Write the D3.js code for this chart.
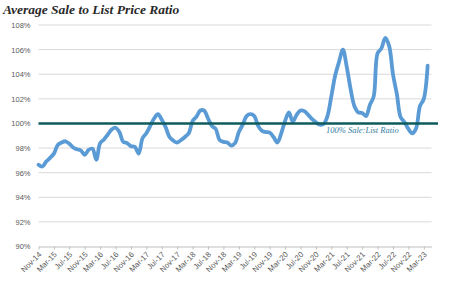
<!DOCTYPE html>
<html>
<head>
<meta charset="utf-8">
<script src="https://cdn.jsdelivr.net/npm/d3@7"></script>
<style>
  html, body { margin: 0; padding: 0; background: #ffffff; }
  svg { display: block; }
</style>
</head>
<body>
<svg id="chart" width="458" height="284"></svg>
<script>
// ---- data ----
const titleText = "Average Sale to List Price Ratio";
const refLabel = "100% Sale:List Ratio";
const refValue = 100;
const startMonth = "2014-11";      // first category (Nov-14)
const ratioValues = [
  96.65, 96.5, 96.9, 97.2, 97.55, 98.25, 98.45, 98.55, 98.35, 98.05, 97.9, 97.8,
  97.45, 97.85, 97.95, 97.05, 98.4, 98.7, 99.1, 99.5, 99.65, 99.3, 98.5, 98.4,
  98.15, 98.1, 97.55, 98.8, 99.2, 99.8, 100.4, 100.75, 100.3, 99.7, 98.9, 98.6,
  98.45, 98.65, 98.9, 99.2, 100.2, 100.55, 101.05, 101.05, 100.4, 99.8, 99.55, 98.65,
  98.5, 98.45, 98.2, 98.4, 99.3, 99.9, 100.6, 100.75, 100.6, 99.8, 99.4, 99.3,
  99.25, 98.9, 98.45, 99.2, 100.2, 100.9, 100.15, 100.7, 101.05, 101.0, 100.7, 100.35,
  100.1, 99.9, 99.95, 100.6, 102.2, 103.9, 105.0, 106.0, 104.6, 102.8, 101.4, 100.9,
  100.85, 100.6, 101.5, 102.2, 105.7, 106.1, 106.95, 106.3, 104.0, 102.4, 100.5, 100.1,
  99.55, 99.2, 99.6, 101.4, 102.0, 104.7
];
const yTicks = [90, 92, 94, 96, 98, 100, 102, 104, 106, 108];
const xTickLabels = [
  "Nov-14","Mar-15","Jul-15","Nov-15","Mar-16","Jul-16","Nov-16","Mar-17","Jul-17",
  "Nov-17","Mar-18","Jul-18","Nov-18","Mar-19","Jul-19","Nov-19","Mar-20","Jul-20",
  "Nov-20","Mar-21","Jul-21","Nov-21","Mar-22","Jul-22","Nov-22","Mar-23"
];

// categories: month index -> date
const parseM = d3.timeParse("%Y-%m");
const fmtM = d3.timeFormat("%b-%y");
const t0 = parseM(startMonth);
const categories = ratioValues.map((v, i) => d3.timeMonth.offset(t0, i));

// ---- layout ----
const svg = d3.select("#chart");
const mLeft = 38.5, mRight = 431.5, mTop = 25, mBottom = 246.5;

const x = d3.scaleLinear().domain([0, 102]).range([mLeft, mRight]);
const y = d3.scaleLinear().domain([90, 108]).range([mBottom, mTop]);

// title
svg.append("text")
  .attr("x", 3).attr("y", 14)
  .attr("font-family", "'Liberation Serif', 'DejaVu Serif', serif")
  .attr("font-size", 13.5)
  .attr("font-weight", "bold")
  .attr("font-style", "italic")
  .attr("fill", "#2a2a2a")
  .text(titleText);

// gridlines
svg.append("g")
  .selectAll("line")
  .data(yTicks.filter(d => d !== 90))
  .join("line")
  .attr("x1", mLeft).attr("x2", mRight)
  .attr("y1", d => y(d)).attr("y2", d => y(d))
  .attr("stroke", "#d9d9d9").attr("stroke-width", 1);

// y axis labels
const yAxis = d3.axisLeft(y).tickValues(yTicks).tickFormat(d => d + "%").tickSize(0).tickPadding(8);
const gy = svg.append("g").attr("transform", `translate(${mLeft},0)`).call(yAxis);
gy.select(".domain").remove();
gy.selectAll("text")
  .attr("font-family", "'Liberation Sans', Arial, sans-serif")
  .attr("font-size", 7.5)
  .attr("fill", "#595959");

// x axis
const tickIdx = xTickLabels.map(lbl => categories.findIndex(c => fmtM(c) === lbl));
const xAxis = d3.axisBottom(x).tickValues(tickIdx)
  .tickFormat((d, i) => xTickLabels[i]).tickSize(3).tickSizeOuter(0);
const gx = svg.append("g").attr("transform", `translate(0,${mBottom})`).call(xAxis);
gx.select(".domain").attr("stroke", "#bfbfbf").attr("stroke-width", 1);
gx.selectAll(".tick line").attr("stroke", "#bfbfbf");
gx.selectAll("text")
  .attr("font-family", "'Liberation Sans', Arial, sans-serif")
  .attr("font-size", 7.8)
  .attr("fill", "#595959")
  .attr("text-anchor", "end")
  .attr("dy", null)
  .attr("y", 0)
  .attr("transform", "translate(3,8.5) rotate(-45)");

// series line
const line = d3.line()
  .x((d, i) => x(i))
  .y(d => y(d))
  .curve(d3.curveCatmullRom.alpha(0.5));
svg.append("path")
  .datum(ratioValues)
  .attr("d", line)
  .attr("fill", "none")
  .attr("stroke", "#5b9bd5")
  .attr("stroke-width", 3.8)
  .attr("stroke-linejoin", "round")
  .attr("stroke-linecap", "round");

// reference line
svg.append("line")
  .attr("x1", mLeft).attr("x2", 438)
  .attr("y1", y(refValue)).attr("y2", y(refValue))
  .attr("stroke", "#0f5b5c").attr("stroke-width", 2.6);

svg.append("text")
  .attr("x", 326).attr("y", y(refValue) + 9.5)
  .attr("font-family", "'Liberation Serif', 'DejaVu Serif', serif")
  .attr("font-size", 8.5)
  .attr("font-style", "italic")
  .attr("fill", "#35809f")
  .text(refLabel);
</script>
</body>
</html>
